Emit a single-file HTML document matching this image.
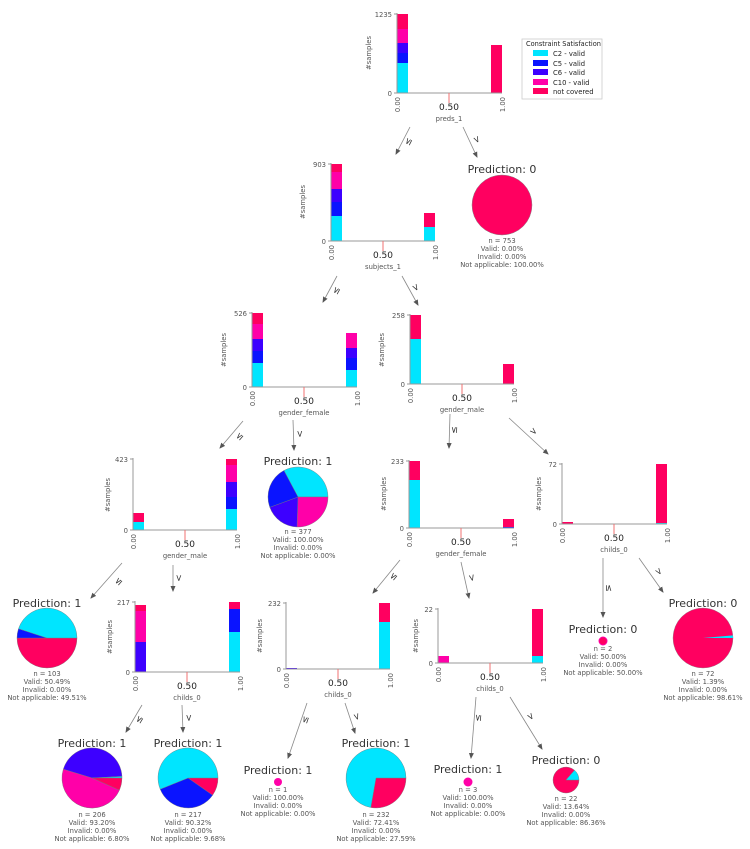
<!DOCTYPE html>
<html><head><meta charset="utf-8"><style>
html,body{margin:0;padding:0;background:#fff;}
svg{display:block;font-family:"DejaVu Sans","Liberation Sans",sans-serif;}
.ax{stroke:#999;stroke-width:1;fill:none}
.rt{stroke:#f07070;stroke-width:1}
.s{font-size:6.8px;fill:#555}
.m{font-size:9px;fill:#222}
.ti{font-size:11px;fill:#333}
.ar{stroke:#888;stroke-width:0.8;marker-end:url(#ah)}
.lb{font-size:9px;fill:#333;text-anchor:middle;dominant-baseline:central}
.c{text-anchor:middle}
.e{text-anchor:end}
</style></head><body>
<svg width="750" height="849" viewBox="0 0 750 849" xmlns="http://www.w3.org/2000/svg">
<defs><marker id="ah" markerWidth="6" markerHeight="6" refX="5" refY="3" orient="auto" markerUnits="userSpaceOnUse"><path d="M0,0.5 L6,3 L0,5.5 Z" fill="#555"/></marker></defs>

<g>
<rect x="397" y="14" width="11" height="15" fill="#FF0060"/><rect x="397" y="29" width="11" height="14" fill="#FF00A8"/><rect x="397" y="43" width="11" height="10" fill="#3D00FF"/><rect x="397" y="53" width="11" height="10" fill="#0A14FF"/><rect x="397" y="63" width="11" height="30" fill="#00E5FF"/>
<rect x="491" y="45" width="11" height="48" fill="#FF0060"/>
<path class="ax" d="M397,13 V93 H502 M394,14 H397 M394,93 H397"/>
<line class="rt" x1="449" y1="93" x2="449" y2="103"/>
<text class="s e" x="392" y="17">1235</text><text class="s e" x="392" y="96">0</text>
<text class="s e" transform="translate(400,97) rotate(-90)">0.00</text><text class="s e" transform="translate(505,97) rotate(-90)">1.00</text>
<text class="m c" x="449" y="110">0.50</text><text class="s c" x="449" y="121">preds_1</text>
<text class="s c" transform="translate(371,53) rotate(-90)">#samples</text>
</g>

<rect x="522" y="39" width="80" height="60" fill="#fff" stroke="#ccc" stroke-width="0.8"/>
<text x="526" y="46" style="font-size:6.6px;fill:#222">Constraint Satisfaction</text>
<rect x="533" y="50" width="15" height="6" fill="#00E5FF"/><text class="s" x="553" y="56" style="fill:#222">C2 - valid</text>
<rect x="533" y="60" width="15" height="6" fill="#0A14FF"/><text class="s" x="553" y="66" style="fill:#222">C5 - valid</text>
<rect x="533" y="69" width="15" height="6" fill="#3D00FF"/><text class="s" x="553" y="75" style="fill:#222">C6 - valid</text>
<rect x="533" y="79" width="15" height="6" fill="#FF00A8"/><text class="s" x="553" y="85" style="fill:#222">C10 - valid</text>
<rect x="533" y="88" width="15" height="6" fill="#FF0060"/><text class="s" x="553" y="94" style="fill:#222">not covered</text>

<g>
<rect x="331" y="164" width="11" height="8" fill="#FF0060"/><rect x="331" y="172" width="11" height="17" fill="#FF00A8"/><rect x="331" y="189" width="11" height="13" fill="#3D00FF"/><rect x="331" y="202" width="11" height="14" fill="#0A14FF"/><rect x="331" y="216" width="11" height="25" fill="#00E5FF"/>
<rect x="424" y="213" width="11" height="14" fill="#FF0060"/><rect x="424" y="227" width="11" height="14" fill="#00E5FF"/>
<path class="ax" d="M331,163 V241 H435 M328,164 H331 M328,241 H331"/>
<line class="rt" x1="383" y1="241" x2="383" y2="251"/>
<text class="s e" x="326" y="167">903</text><text class="s e" x="326" y="244">0</text>
<text class="s e" transform="translate(334,245) rotate(-90)">0.00</text><text class="s e" transform="translate(438,245) rotate(-90)">1.00</text>
<text class="m c" x="383" y="258">0.50</text><text class="s c" x="383" y="269">subjects_1</text>
<text class="s c" transform="translate(305,202) rotate(-90)">#samples</text>
</g>

<text class="ti c" x="502" y="173">Prediction: 0</text>
<circle cx="502" cy="205" r="30" fill="#FF0060" stroke="#888" stroke-width="0.5"/>
<text class="s c" x="502" y="243">n = 753</text><text class="s c" x="502" y="251">Valid: 0.00%</text><text class="s c" x="502" y="259">Invalid: 0.00%</text><text class="s c" x="502" y="267">Not applicable: 100.00%</text>

<g>
<rect x="252" y="313" width="11" height="11" fill="#FF0060"/><rect x="252" y="324" width="11" height="15" fill="#FF00A8"/><rect x="252" y="339" width="11" height="12" fill="#3D00FF"/><rect x="252" y="351" width="11" height="12" fill="#0A14FF"/><rect x="252" y="363" width="11" height="24" fill="#00E5FF"/>
<rect x="346" y="333" width="11" height="15" fill="#FF00A8"/><rect x="346" y="348" width="11" height="10" fill="#3D00FF"/><rect x="346" y="358" width="11" height="12" fill="#0A14FF"/><rect x="346" y="370" width="11" height="17" fill="#00E5FF"/>
<path class="ax" d="M252,312 V387 H357 M249,313 H252 M249,387 H252"/>
<line class="rt" x1="304" y1="387" x2="304" y2="397"/>
<text class="s e" x="247" y="316">526</text><text class="s e" x="247" y="390">0</text>
<text class="s e" transform="translate(255,391) rotate(-90)">0.00</text><text class="s e" transform="translate(360,391) rotate(-90)">1.00</text>
<text class="m c" x="304" y="404">0.50</text><text class="s c" x="304" y="415">gender_female</text>
<text class="s c" transform="translate(226,350) rotate(-90)">#samples</text>
</g>

<g>
<rect x="410" y="315" width="11" height="24" fill="#FF0060"/><rect x="410" y="339" width="11" height="45" fill="#00E5FF"/>
<rect x="503" y="364" width="11" height="20" fill="#FF0060"/>
<path class="ax" d="M410,314 V384 H514 M407,315 H410 M407,384 H410"/>
<line class="rt" x1="462" y1="384" x2="462" y2="394"/>
<text class="s e" x="405" y="318">258</text><text class="s e" x="405" y="387">0</text>
<text class="s e" transform="translate(413,388) rotate(-90)">0.00</text><text class="s e" transform="translate(517,388) rotate(-90)">1.00</text>
<text class="m c" x="462" y="401">0.50</text><text class="s c" x="462" y="412">gender_male</text>
<text class="s c" transform="translate(384,350) rotate(-90)">#samples</text>
</g>

<text class="ti c" x="298" y="465">Prediction: 1</text>
<g stroke="#777" stroke-width="0.4">
<path d="M298,497 L283.9,470.5 A30,30 0 0 1 328,497 Z" fill="#00E5FF"/>
<path d="M298,497 L328,497 A30,30 0 0 1 297,527 Z" fill="#FF00A8"/>
<path d="M298,497 L297,527 A30,30 0 0 1 269.8,507.3 Z" fill="#3D00FF"/>
<path d="M298,497 L269.8,507.3 A30,30 0 0 1 283.9,470.5 Z" fill="#0A14FF"/>
</g>
<text class="s c" x="298" y="534">n = 377</text><text class="s c" x="298" y="542">Valid: 100.00%</text><text class="s c" x="298" y="550">Invalid: 0.00%</text><text class="s c" x="298" y="558">Not applicable: 0.00%</text>

<g>
<rect x="133" y="513" width="11" height="9" fill="#FF0060"/><rect x="133" y="522" width="11" height="8" fill="#00E5FF"/>
<rect x="226" y="459" width="11" height="6" fill="#FF0060"/><rect x="226" y="465" width="11" height="17" fill="#FF00A8"/><rect x="226" y="482" width="11" height="15" fill="#3D00FF"/><rect x="226" y="497" width="11" height="12" fill="#0A14FF"/><rect x="226" y="509" width="11" height="21" fill="#00E5FF"/>
<path class="ax" d="M133,458 V530 H237 M130,459 H133 M130,530 H133"/>
<line class="rt" x1="185" y1="530" x2="185" y2="540"/>
<text class="s e" x="128" y="462">423</text><text class="s e" x="128" y="533">0</text>
<text class="s e" transform="translate(136,534) rotate(-90)">0.00</text><text class="s e" transform="translate(240,534) rotate(-90)">1.00</text>
<text class="m c" x="185" y="547">0.50</text><text class="s c" x="185" y="558">gender_male</text>
<text class="s c" transform="translate(110,495) rotate(-90)">#samples</text>
</g>

<g>
<rect x="409" y="461" width="11" height="19" fill="#FF0060"/><rect x="409" y="480" width="11" height="48" fill="#00E5FF"/>
<rect x="503" y="519" width="11" height="8" fill="#FF0060"/><rect x="503" y="527" width="11" height="1" fill="#0A14FF"/>
<path class="ax" d="M409,460 V528 H514 M406,461 H409 M406,528 H409"/>
<line class="rt" x1="461" y1="528" x2="461" y2="538"/>
<text class="s e" x="404" y="464">233</text><text class="s e" x="404" y="531">0</text>
<text class="s e" transform="translate(412,532) rotate(-90)">0.00</text><text class="s e" transform="translate(517,532) rotate(-90)">1.00</text>
<text class="m c" x="461" y="545">0.50</text><text class="s c" x="461" y="556">gender_female</text>
<text class="s c" transform="translate(386,494) rotate(-90)">#samples</text>
</g>

<g>
<rect x="562" y="522" width="11" height="2" fill="#FF0060"/>
<rect x="656" y="464" width="11" height="59" fill="#FF0060"/><rect x="656" y="523" width="11" height="1" fill="#00E5FF"/>
<path class="ax" d="M562,463 V524 H667 M559,464 H562 M559,524 H562"/>
<line class="rt" x1="614" y1="524" x2="614" y2="534"/>
<text class="s e" x="557" y="467">72</text><text class="s e" x="557" y="527">0</text>
<text class="s e" transform="translate(565,528) rotate(-90)">0.00</text><text class="s e" transform="translate(670,528) rotate(-90)">1.00</text>
<text class="m c" x="614" y="541">0.50</text><text class="s c" x="614" y="552">childs_0</text>
<text class="s c" transform="translate(541,494) rotate(-90)">#samples</text>
</g>

<text class="ti c" x="47" y="607">Prediction: 1</text>
<g stroke="#777" stroke-width="0.4">
<path d="M47,638 L77,638 A30,30 0 0 1 17,638 Z" fill="#FF0060"/>
<path d="M47,638 L17,638 A30,30 0 0 1 18.5,628.7 Z" fill="#0A14FF"/>
<path d="M47,638 L18.5,628.7 A30,30 0 0 1 77,638 Z" fill="#00E5FF"/>
</g>
<text class="s c" x="47" y="676">n = 103</text><text class="s c" x="47" y="684">Valid: 50.49%</text><text class="s c" x="47" y="692">Invalid: 0.00%</text><text class="s c" x="47" y="700">Not applicable: 49.51%</text>

<g>
<rect x="135" y="605" width="11" height="6" fill="#FF0060"/><rect x="135" y="611" width="11" height="31" fill="#FF00A8"/><rect x="135" y="642" width="11" height="30" fill="#3D00FF"/>
<rect x="229" y="602" width="11" height="7" fill="#FF0060"/><rect x="229" y="609" width="11" height="23" fill="#0A14FF"/><rect x="229" y="632" width="11" height="40" fill="#00E5FF"/>
<path class="ax" d="M135,601 V672 H240 M132,602 H135 M132,672 H135"/>
<line class="rt" x1="187" y1="672" x2="187" y2="682"/>
<text class="s e" x="130" y="605">217</text><text class="s e" x="130" y="675">0</text>
<text class="s e" transform="translate(138,676) rotate(-90)">0.00</text><text class="s e" transform="translate(243,676) rotate(-90)">1.00</text>
<text class="m c" x="187" y="689">0.50</text><text class="s c" x="187" y="700">childs_0</text>
<text class="s c" transform="translate(112,637) rotate(-90)">#samples</text>
</g>

<g>
<rect x="286" y="668" width="11" height="1" fill="#3D00FF"/>
<rect x="379" y="603" width="11" height="19" fill="#FF0060"/><rect x="379" y="622" width="11" height="47" fill="#00E5FF"/>
<path class="ax" d="M286,602 V669 H390 M283,603 H286 M283,669 H286"/>
<line class="rt" x1="338" y1="669" x2="338" y2="679"/>
<text class="s e" x="281" y="606">232</text><text class="s e" x="281" y="672">0</text>
<text class="s e" transform="translate(289,673) rotate(-90)">0.00</text><text class="s e" transform="translate(393,673) rotate(-90)">1.00</text>
<text class="m c" x="338" y="686">0.50</text><text class="s c" x="338" y="697">childs_0</text>
<text class="s c" transform="translate(262,636) rotate(-90)">#samples</text>
</g>

<g>
<rect x="438" y="656" width="11" height="7" fill="#FF00A8"/>
<rect x="532" y="609" width="11" height="47" fill="#FF0060"/><rect x="532" y="656" width="11" height="7" fill="#00E5FF"/>
<path class="ax" d="M438,608 V663 H543 M435,609 H438 M435,663 H438"/>
<line class="rt" x1="490" y1="663" x2="490" y2="673"/>
<text class="s e" x="433" y="612">22</text><text class="s e" x="433" y="666">0</text>
<text class="s e" transform="translate(441,667) rotate(-90)">0.00</text><text class="s e" transform="translate(546,667) rotate(-90)">1.00</text>
<text class="m c" x="490" y="680">0.50</text><text class="s c" x="490" y="691">childs_0</text>
<text class="s c" transform="translate(418,636) rotate(-90)">#samples</text>
</g>

<text class="ti c" x="603" y="633">Prediction: 0</text>
<circle cx="603" cy="641" r="4" fill="#FF0060" stroke="#FF00A8" stroke-width="1"/>
<text class="s c" x="603" y="651">n = 2</text><text class="s c" x="603" y="659">Valid: 50.00%</text><text class="s c" x="603" y="667">Invalid: 0.00%</text><text class="s c" x="603" y="675">Not applicable: 50.00%</text>

<text class="ti c" x="703" y="607">Prediction: 0</text>
<circle cx="703" cy="638" r="30" fill="#FF0060" stroke="#888" stroke-width="0.4"/>
<path d="M703,638 L732.9,635.4 A30,30 0 0 1 733,638 Z" fill="#00E5FF"/>
<text class="s c" x="703" y="676">n = 72</text><text class="s c" x="703" y="684">Valid: 1.39%</text><text class="s c" x="703" y="692">Invalid: 0.00%</text><text class="s c" x="703" y="700">Not applicable: 98.61%</text>

<text class="ti c" x="92" y="747">Prediction: 1</text>
<g stroke="#777" stroke-width="0.4">
<path d="M92,778 L63.3,769.2 A30,30 0 0 1 122,776.4 Z" fill="#3D00FF"/>
<path d="M92,778 L122,776.4 A30,30 0 0 1 122,778 Z" fill="#00E5FF"/>
<path d="M92,778 L122,778 A30,30 0 0 1 119.4,790.2 Z" fill="#FF0060"/>
<path d="M92,778 L119.4,790.2 A30,30 0 0 1 63.3,769.2 Z" fill="#FF00A8"/>
</g>
<text class="s c" x="92" y="817">n = 206</text><text class="s c" x="92" y="825">Valid: 93.20%</text><text class="s c" x="92" y="833">Invalid: 0.00%</text><text class="s c" x="92" y="841">Not applicable: 6.80%</text>

<text class="ti c" x="188" y="747">Prediction: 1</text>
<g stroke="#777" stroke-width="0.4">
<path d="M188,778 L218,778 A30,30 0 0 1 212.6,795.2 Z" fill="#FF0060"/>
<path d="M188,778 L212.6,795.2 A30,30 0 0 1 160.2,789.2 Z" fill="#0A14FF"/>
<path d="M188,778 L160.2,789.2 A30,30 0 1 1 218,778 Z" fill="#00E5FF"/>
</g>
<text class="s c" x="188" y="817">n = 217</text><text class="s c" x="188" y="825">Valid: 90.32%</text><text class="s c" x="188" y="833">Invalid: 0.00%</text><text class="s c" x="188" y="841">Not applicable: 9.68%</text>

<text class="ti c" x="278" y="774">Prediction: 1</text>
<circle cx="278" cy="782" r="4" fill="#FF00A8"/>
<text class="s c" x="278" y="792">n = 1</text><text class="s c" x="278" y="800">Valid: 100.00%</text><text class="s c" x="278" y="808">Invalid: 0.00%</text><text class="s c" x="278" y="816">Not applicable: 0.00%</text>

<text class="ti c" x="376" y="747">Prediction: 1</text>
<g stroke="#777" stroke-width="0.4">
<path d="M376,778 L406,778 A30,30 0 0 1 370.8,807.5 Z" fill="#FF0060"/>
<path d="M376,778 L370.8,807.5 A30,30 0 1 1 406,778 Z" fill="#00E5FF"/>
</g>
<text class="s c" x="376" y="817">n = 232</text><text class="s c" x="376" y="825">Valid: 72.41%</text><text class="s c" x="376" y="833">Invalid: 0.00%</text><text class="s c" x="376" y="841">Not applicable: 27.59%</text>

<text class="ti c" x="468" y="773">Prediction: 1</text>
<circle cx="468" cy="782" r="4.5" fill="#FF00A8"/>
<text class="s c" x="468" y="792">n = 3</text><text class="s c" x="468" y="800">Valid: 100.00%</text><text class="s c" x="468" y="808">Invalid: 0.00%</text><text class="s c" x="468" y="816">Not applicable: 0.00%</text>

<text class="ti c" x="566" y="764">Prediction: 0</text>
<g stroke="#777" stroke-width="0.4">
<path d="M566,780 L579,780 A13,13 0 1 1 574.5,770.2 Z" fill="#FF0060"/>
<path d="M566,780 L574.5,770.2 A13,13 0 0 1 579,780 Z" fill="#00E5FF"/>
</g>
<text class="s c" x="566" y="801">n = 22</text><text class="s c" x="566" y="809">Valid: 13.64%</text><text class="s c" x="566" y="817">Invalid: 0.00%</text><text class="s c" x="566" y="825">Not applicable: 86.36%</text>

<g>
<line class="ar" x1="410" y1="127" x2="396" y2="154"/><text class="lb" transform="translate(409,142) rotate(-63)">≤</text>
<line class="ar" x1="463" y1="127" x2="477" y2="157"/><text class="lb" transform="translate(476,140) rotate(65)">&gt;</text>
<line class="ar" x1="337" y1="276" x2="323" y2="302"/><text class="lb" transform="translate(337,291) rotate(-62)">≤</text>
<line class="ar" x1="402" y1="276" x2="418" y2="305"/><text class="lb" transform="translate(415,288) rotate(61)">&gt;</text>
<line class="ar" x1="243" y1="421" x2="220" y2="448"/><text class="lb" transform="translate(240,437) rotate(-50)">≤</text>
<line class="ar" x1="293" y1="420" x2="294" y2="450"/><text class="lb" transform="translate(299,434) rotate(88)">&gt;</text>
<line class="ar" x1="450" y1="414" x2="449" y2="448"/><text class="lb" transform="translate(455,430) rotate(-88)">≤</text>
<line class="ar" x1="509" y1="418" x2="548" y2="454"/><text class="lb" transform="translate(533,432) rotate(43)">&gt;</text>
<line class="ar" x1="122" y1="563" x2="91" y2="598"/><text class="lb" transform="translate(119,582) rotate(-49)">≤</text>
<line class="ar" x1="173" y1="565" x2="173" y2="591"/><text class="lb" transform="translate(178,578) rotate(90)">&gt;</text>
<line class="ar" x1="400" y1="560" x2="373" y2="593"/><text class="lb" transform="translate(394,577) rotate(-51)">≤</text>
<line class="ar" x1="461" y1="562" x2="469" y2="598"/><text class="lb" transform="translate(471,578) rotate(77)">&gt;</text>
<line class="ar" x1="603" y1="558" x2="603" y2="617"/><text class="lb" transform="translate(608,588) rotate(90)">≤</text>
<line class="ar" x1="639" y1="558" x2="663" y2="592"/><text class="lb" transform="translate(658,572) rotate(55)">&gt;</text>
<line class="ar" x1="142" y1="705" x2="126" y2="732"/><text class="lb" transform="translate(140,720) rotate(-59)">≤</text>
<line class="ar" x1="182" y1="705" x2="183" y2="732"/><text class="lb" transform="translate(188,718) rotate(88)">&gt;</text>
<line class="ar" x1="307" y1="703" x2="288" y2="758"/><text class="lb" transform="translate(306,720) rotate(-71)">≤</text>
<line class="ar" x1="345" y1="703" x2="355" y2="733"/><text class="lb" transform="translate(356,717) rotate(72)">&gt;</text>
<line class="ar" x1="476" y1="697" x2="471" y2="758"/><text class="lb" transform="translate(479,718) rotate(-85)">≤</text>
<line class="ar" x1="510" y1="697" x2="542" y2="749"/><text class="lb" transform="translate(530,717) rotate(58)">&gt;</text>
</g>
</svg>
</body></html>
